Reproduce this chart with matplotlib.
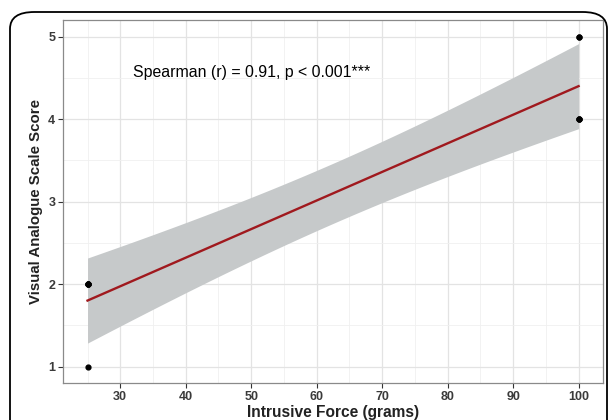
import matplotlib.pyplot as plt
import numpy as np
from matplotlib.patches import FancyBboxPatch

plt.rcParams['font.family'] = ['Liberation Sans', 'DejaVu Sans']

# Intrusive force (grams) and VAS scores (overlapping points)
force = [25, 25, 25, 25, 25, 100, 100, 100, 100, 100]
vas = [1, 2, 2, 2, 2, 4, 4, 4, 5, 5]
x_ticks = [30, 40, 50, 60, 70, 80, 90, 100]
y_ticks = [1, 2, 3, 4, 5]
label_text = 'Spearman (r) = 0.91, p < 0.001***'

# linear fit with 95% confidence band (like geom_smooth(method='lm'))
x = np.array(force, dtype=float)
y = np.array(vas, dtype=float)
n = len(x)
slope, intercept = np.polyfit(x, y, 1)
resid = y - (slope * x + intercept)
s = np.sqrt(np.sum(resid ** 2) / (n - 2))
sxx = np.sum((x - x.mean()) ** 2)
t_crit = 2.306  # t(0.975, df=8)
xs = np.linspace(x.min(), x.max(), 100)
fit = slope * xs + intercept
se = s * np.sqrt(1 / n + (xs - x.mean()) ** 2 / sxx)

fig = plt.figure(figsize=(6.09, 4.2), dpi=100)
ax = fig.add_axes([0.1034, 0.088, 0.887, 0.864])

ax.fill_between(xs, fit - t_crit * se, fit + t_crit * se, color='#C6C9CA', lw=0, zorder=2)
ax.plot(xs, fit, color='#A0191E', lw=1.7, zorder=3)
ax.scatter(force, vas, s=12, color='black', zorder=4)

ax.text(50, 4.56, label_text, ha='center', va='center', fontsize=11.4, color='black')

ax.set_xlim(21.25, 103.75)
ax.set_ylim(0.8, 5.2)
ax.set_xticks(x_ticks)
ax.set_yticks(y_ticks)
ax.set_xticks([25, 35, 45, 55, 65, 75, 85, 95], minor=True)
ax.set_yticks([1.5, 2.5, 3.5, 4.5], minor=True)
ax.grid(which='major', color='#E3E3E3', lw=0.9, zorder=0)
ax.grid(which='minor', color='#F0F0F0', lw=0.6, zorder=0)
ax.set_axisbelow(True)
ax.tick_params(which='minor', length=0)
ax.tick_params(which='major', length=3.5, width=0.8, color='#333333',
               labelsize=9, labelcolor='#3A3A3A', pad=2)
for lab in ax.get_xticklabels() + ax.get_yticklabels():
    lab.set_fontweight('bold')
for sp in ax.spines.values():
    sp.set_color('#8A8A8A')
    sp.set_linewidth(0.9)

ax.set_xlabel('Intrusive Force (grams)', fontsize=11.2, fontweight='bold', color='#222222', labelpad=2)
ax.set_ylabel('Visual Analogue Scale Score', fontsize=10.8, fontweight='bold', color='#222222', labelpad=4)

# rounded frame around the figure
frame = FancyBboxPatch((10 / 609, -0.05), 597 / 609, 1 - 12 / 420 + 0.05,
                       boxstyle='round,pad=0,rounding_size=0.04',
                       transform=fig.transFigure, fill=False, ec='black', lw=1.3)
fig.patches.append(frame)

fig.savefig('out.png', dpi=100)
